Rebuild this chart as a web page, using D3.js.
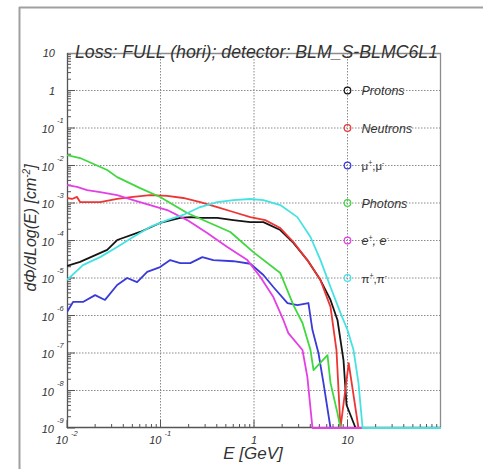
<!DOCTYPE html>
<html><head><meta charset="utf-8">
<script src="https://cdn.jsdelivr.net/npm/d3@7"></script>
<style>body{margin:0;background:#fff;}svg{display:block;}text{font-family:"Liberation Sans",Arial,sans-serif;}</style>
</head><body>
<svg id="c" width="483" height="469"></svg>
<script>
const title = "Loss: FULL (hori); detector: BLM_S-BLMC6L1";
const xLabel = "E [GeV]";
const seriesNames = ["Protons","Neutrons","mu","Photons","e","pi"];
const seriesColors = ["#151515","#ee3535","#3a3ad8","#3fd83f","#e43fe4","#45e2e2"];

const protonsE = [0.01,0.0138,0.0269,0.0344,0.0605,0.099,0.1625,0.208,0.266,0.405,0.601,0.914,1.26,1.91,2.64,3.72,5.14,6.58,7.81,9.06,9.77,12.2,100];
const protonsV = [2.1e-5,2.7e-5,5.6e-5,1.03e-4,1.69e-4,2.93e-4,4.0e-4,4.2e-4,4.0e-4,4.0e-4,3.5e-4,3.1e-4,3.1e-4,1.9e-4,8.6e-5,3.0e-5,8.8e-6,2.6e-6,7.6e-7,6.5e-8,4.1e-9,0,0];

const neutronsE = [0.01,0.0113,0.0128,0.0138,0.0226,0.0344,0.051,0.0775,0.118,0.175,0.266,0.405,0.601,0.914,1.32,1.91,2.64,3.72,5.14,6.58,7.62,8.41,10.3,13.1,100];
const neutronsV = [1.36e-3,1.28e-3,1.45e-3,1.06e-3,1.06e-3,1.28e-3,1.45e-3,1.63e-3,1.54e-3,1.36e-3,1.06e-3,7.8e-4,5.75e-4,4.2e-4,3.5e-4,2.15e-4,9.1e-5,3.0e-5,8.8e-6,1.7e-6,1.2e-7,0,5.4e-8,0,0];

const muonsE = [0.01,0.0116,0.0148,0.02,0.0255,0.0344,0.044,0.0562,0.072,0.099,0.127,0.1625,0.208,0.28,0.367,0.601,0.914,1.26,1.61,2.28,2.91,3.82,4.22,4.89,5.53,6.58,100];
const muonsV = [1.24e-6,2.3e-6,2.3e-6,3.5e-6,2.6e-6,6.5e-6,1.0e-5,7.8e-6,1.45e-5,1.96e-5,3.0e-5,2.5e-5,2.5e-5,3.6e-5,3.0e-5,2.8e-5,2.4e-5,1.2e-5,5.75e-6,2.15e-6,1.9e-6,2.15e-6,4.1e-7,1.0e-7,1.6e-8,0,0];

const photonsE = [0.01,0.0138,0.0269,0.0344,0.0605,0.099,0.193,0.558,0.984,1.91,2.64,3.3,4.02,4.33,6.11,6.58,7.81,8.41,100];
const photonsV = [1.9e-2,1.58e-2,7.6e-3,4.9e-3,2.5e-3,1.45e-3,5.4e-4,1.69e-4,4.9e-5,1.36e-5,1.9e-6,6.3e-7,1.2e-7,3.5e-8,8.8e-8,1.6e-8,2.5e-9,0,0];

const electronsE = [0.01,0.0128,0.0164,0.0226,0.0344,0.051,0.0775,0.118,0.193,0.316,0.518,0.849,1.17,1.61,2.06,2.33,3.3,3.72,4.22,100];
const electronsV = [3.0e-3,2.7e-3,2.2e-3,1.96e-3,1.63e-3,1.2e-3,8.8e-4,6.5e-4,3.5e-4,1.58e-4,6.7e-5,3.0e-5,1.06e-5,3.1e-6,7.6e-7,3.4e-7,1.2e-7,2.3e-8,0,0];

const pionsE = [0.01,0.0148,0.0226,0.0344,0.051,0.0775,0.118,0.175,0.266,0.405,0.601,0.914,1.26,1.91,2.91,4.02,5.14,6.58,8.41,10.0,11.6,13.1,14.5,100];
const pionsV = [8.8e-6,2.2e-5,3.6e-5,6.7e-5,1.24e-4,2.3e-4,3.5e-4,4.8e-4,7.8e-4,1.06e-3,1.2e-3,1.28e-3,1.2e-3,8.8e-4,4.2e-4,1.24e-4,3.0e-5,5.75e-6,1.17e-6,4.1e-7,1.2e-7,1.6e-8,0,0];

const xTickExps = [-2,-1,0,1];
const yTickExps = [1,0,-1,-2,-3,-4,-5,-6,-7,-8,-9];

const svg = d3.select("#c");
const L=67, R=441, T=53, B=428;
const x = d3.scaleLog().domain([0.01,100]).range([L,R]);
const y = d3.scaleLog().domain([1e-9,10]).range([B,T]);
const FLOOR = 1e-9;

// outer canvas frame
svg.append("line").attr("x1",19.5).attr("x2",19.5).attr("y1",7).attr("y2",469).attr("stroke","#a0a0a0").attr("stroke-width",2);
svg.append("line").attr("x1",19).attr("x2",483).attr("y1",7.5).attr("y2",7.5).attr("stroke","#a0a0a0").attr("stroke-width",2);

// grid
const g = svg.append("g");
xTickExps.forEach(e=>{
  const xx = x(Math.pow(10,e));
  if (xx>L+1 && xx<R-1) g.append("line").attr("x1",xx).attr("x2",xx).attr("y1",T).attr("y2",B)
    .attr("stroke","#8a8a8a").attr("stroke-width",1).attr("stroke-dasharray","1.5,1.5");
});
yTickExps.forEach(e=>{
  const yy = y(Math.pow(10,e));
  if (yy>T+1 && yy<B-1) g.append("line").attr("x1",L).attr("x2",R).attr("y1",yy).attr("y2",yy)
    .attr("stroke","#8a8a8a").attr("stroke-width",1).attr("stroke-dasharray","1.5,1.5");
});

// frame
svg.append("line").attr("x1",L).attr("x2",R).attr("y1",T+0.5).attr("y2",T+0.5).attr("stroke","#8c8c8c").attr("stroke-width",1.3);
svg.append("line").attr("x1",R-0.5).attr("x2",R-0.5).attr("y1",T).attr("y2",B).attr("stroke","#8c8c8c").attr("stroke-width",1.3);

// axes with ticks (inside)
const ax = svg.append("g");
for (let e=-2;e<2;e++){
  for (let m=1;m<10;m++){
    const v=m*Math.pow(10,e); const xx=x(v);
    const len = m===1?8:4;
    ax.append("line").attr("x1",xx).attr("x2",xx).attr("y1",B).attr("y2",B-len).attr("stroke","#555").attr("stroke-width",1);
  }
}
for (let e=-9;e<1;e++){
  for (let m=1;m<10;m++){
    const v=m*Math.pow(10,e); const yy=y(v);
    const len = m===1?8:4;
    ax.append("line").attr("x1",L).attr("x2",L+len).attr("y1",yy).attr("y2",yy).attr("stroke","#555").attr("stroke-width",1);
  }
}
ax.append("line").attr("x1",L+0.5).attr("x2",L+0.5).attr("y1",T).attr("y2",B).attr("stroke","#555").attr("stroke-width",1.3);
ax.append("line").attr("x1",L).attr("x2",R).attr("y1",B-0.5).attr("y2",B-0.5).attr("stroke","#555").attr("stroke-width",1.3);

// tick labels
const tl = svg.append("g").attr("font-style","italic").attr("fill","#333");
yTickExps.forEach(e=>{
  const yy = y(Math.pow(10,e));
  if (e===1 || e===0){
    tl.append("text").attr("x",55).attr("y",yy+4).attr("text-anchor","end").attr("font-size",11).text(e===1?"10":"1");
  } else {
    tl.append("text").attr("x",54).attr("y",yy+5).attr("text-anchor","end").attr("font-size",11).text("10");
    tl.append("text").attr("x",57).attr("y",yy-5).attr("font-size",7.5).text(String(e));
  }
});
xTickExps.forEach(e=>{
  const xx = x(Math.pow(10,e));
  if (e<0){
    tl.append("text").attr("x",xx+1).attr("y",444).attr("text-anchor","end").attr("font-size",11).text("10");
    tl.append("text").attr("x",xx+4).attr("y",436).attr("font-size",7.5).text(String(e));
  } else {
    tl.append("text").attr("x",xx).attr("y",444).attr("text-anchor","middle").attr("font-size",11).text(e===0?"1":"10");
  }
});

// series
const allE = [protonsE,neutronsE,muonsE,photonsE,electronsE,pionsE];
const allV = [protonsV,neutronsV,muonsV,photonsV,electronsV,pionsV];
const line = d3.line().x(d=>x(d[0])).y(d=>y(Math.max(d[1],FLOOR)));
svg.append("clipPath").attr("id","pc").append("rect").attr("x",L).attr("y",T).attr("width",R-L).attr("height",B-T+2);
const sg = svg.append("g").attr("clip-path","url(#pc)");
allE.forEach((es,i)=>{
  const pts = es.map((e,k)=>[e,allV[i][k]]);
  sg.append("path").attr("d",line(pts)).attr("fill","none").attr("stroke",seriesColors[i]).attr("stroke-width",1.8).attr("stroke-linejoin","round");
});

// legend
const lg = svg.append("g");
const legendX = x(10);
seriesNames.forEach((n,i)=>{
  const yy = y(Math.pow(10,-i));
  lg.append("circle").attr("cx",legendX).attr("cy",yy).attr("r",3.3).attr("fill","none").attr("stroke",seriesColors[i]).attr("stroke-width",1.2);
  const t = lg.append("text").attr("x",legendX+14).attr("y",yy+4.5).attr("fill","#333").attr("font-size",12.5);
  if (n==="mu"){
    t.attr("font-family","'DejaVu Serif',serif").attr("font-size",11.5);
    t.append("tspan").text("\u03bc");
    t.append("tspan").attr("dy",-5).attr("font-size",7).text("+");
    t.append("tspan").attr("dy",5).text(",\u03bc");
    t.append("tspan").attr("dy",-5).attr("font-size",7).text("-");
  } else if (n==="pi"){
    t.attr("font-family","'DejaVu Serif',serif").attr("font-size",11.5);
    t.append("tspan").text("\u03c0");
    t.append("tspan").attr("dy",-5).attr("font-size",7).text("+");
    t.append("tspan").attr("dy",5).text(",\u03c0");
    t.append("tspan").attr("dy",-5).attr("font-size",7).text("-");
  } else if (n==="e"){
    t.attr("font-style","italic");
    t.append("tspan").text("e");
    t.append("tspan").attr("dy",-5).attr("font-size",7).text("+");
    t.append("tspan").attr("dy",5).text(", e");
    t.append("tspan").attr("dy",-5).attr("font-size",7).text("-");
  } else {
    t.attr("font-style","italic").text(n);
  }
});

// title
svg.append("text").attr("x",75).attr("y",58).attr("font-size",19).attr("font-style","italic").attr("fill","#333")
  .attr("textLength",363).attr("lengthAdjust","spacingAndGlyphs").text(title);

// axis titles
svg.append("text").attr("x",253).attr("y",459).attr("text-anchor","middle").attr("font-size",17).attr("font-style","italic").attr("fill","#333").text(xLabel);
const yt = svg.append("text").attr("transform","translate(36,228) rotate(-90)").attr("text-anchor","middle").attr("font-size",16).attr("font-style","italic").attr("fill","#333");
yt.append("tspan").text("d\u03a6/dLog(E) [cm");
yt.append("tspan").attr("dy",-6).attr("font-size",10).text("-2");
yt.append("tspan").attr("dy",6).text("]");
</script>
</body></html>
